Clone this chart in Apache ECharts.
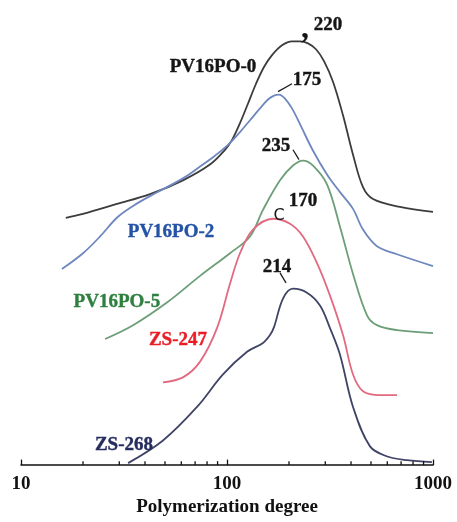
<!DOCTYPE html>
<html>
<head>
<meta charset="utf-8">
<script src="https://cdn.jsdelivr.net/npm/echarts@6/dist/echarts.min.js"></script>
<style>html,body{margin:0;padding:0;background:#fff}#c{width:457px;height:522px}</style>
</head>
<body>
<div id="c"></div>
<script>
// Degree of polymerization (x) and offset intensity (y, arbitrary units)
const pv0X = [16.5,20.0,29.2,42.3,61.1,82.6,97.8,105.8,115.6,126.5,138.3,151.2,165.4,184.9,206.8,226.1,247.3,270.4,295.7,327.0,365.7,409.0,457.3,511.3,691.5,1000];
const pv0Y = [251,255,265,275,289,305,320,330,347,367,387,404,416,426,430,430,428,422,410,389,355,315,282,270,262,257];
const pv2X = [15.8,20.0,24.2,29.2,35.0,42.3,61.1,74.0,87.4,101.1,115.6,129.3,144.6,158.1,169.1,178.8,191.2,206.8,226.1,261.6,305.8,353.6,409.0,457.3,534.8,668.7,1000];
const pv2Y = [199,215,232,251,263,273,291,303,314,325,338,350,362,371,375,376,372,362,346,319,295,277,260,239,222,214,202];
const pv5X = [25.6,35.0,51.1,74.0,103.4,129.3,149.5,180.9,209.1,233.8,261.6,305.8,353.6,409.0,478.2,534.8,668.7,1000];
const pv5Y = [128,142,165,192,215,232,259,289,304,309,304,285,242,194,152,142,137,134];
const zs247X = [48.9,61.1,74.0,89.4,103.4,115.6,133.7,167.2,202.2,233.8,273.5,316.2,365.7,409.0,457.3,553.0,668.7];
const zs247Y = [84,89,105,139,184,215,239,250,245,232,205,172,132,92,75,71,71];
const zs268X = [33.1,48.9,71.5,95.6,125.1,149.5,161.7,169.1,187.0,209.1,244.5,282.8,316.2,353.6,409.0,494.5,595.5,747.6,988];
const zs268Y = [2,25,59,92,115,124,132,140,169,179,175,162,139,112,59,19,9,5,3];

const xTicks = [10,100,1000];
const minorTicks = [20,30,40,50,60,70,80,90,200,300,400,500,600,700,800,900];

// Annotations: text, x, y, colour
const annotations = [
  ['PV16PO-0', 85.5, 404, '#151515'],
  ['220', 309.3, 447, '#151515'],
  ['175', 244.5, 391, '#151515'],
  ['235', 172.9, 324, '#151515'],
  ['170', 233.8, 268, '#151515'],
  ['214', 174.9, 201, '#151515'],
  ['PV16PO-2', 53.5, 236, '#2453a6'],
  ['PV16PO-5', 29.2, 165, '#2f8040'],
  ['ZS-247', 57.8, 127, '#ea1c24'],
  ['ZS-268', 31.6, 20, '#252c5e']
];
const leaders = [
  [[176.9,379],[206.8,387]],
  [[209.1,320],[223.6,310]],
  [[180.9,195],[193.4,185]]
];

const zip = (xs, ys) => xs.map((x, i) => [x, ys[i]]);
const FONT = '"Liberation Serif", "Times New Roman", serif';

const curves = [
  ['PV16PO-0', pv0X, pv0Y, '#3c3c3c'],
  ['PV16PO-2', pv2X, pv2Y, '#6f87bf'],
  ['PV16PO-5', pv5X, pv5Y, '#6c9e78'],
  ['ZS-247', zs247X, zs247Y, '#e16a80'],
  ['ZS-268', zs268X, zs268Y, '#3f4466']
];

const series = curves.map(c => ({
  name: c[0], type: 'line', data: zip(c[1], c[2]), smooth: 0.35,
  showSymbol: false, lineStyle: {color: c[3], width: 1.8}, z: 3
}));

leaders.forEach(l => series.push({
  type: 'line', data: l, showSymbol: false, lineStyle: {color: '#1e1e1e', width: 1.3}, z: 4
}));

// minor ticks on the log axis
minorTicks.forEach(v => series.push({
  type: 'line', data: [[v, 0], [v, 4]], showSymbol: false, clip: false,
  lineStyle: {color: '#111', width: 1.3}, z: 6
}));

series.push({
  type: 'scatter', symbolSize: 0, z: 5, itemStyle: {opacity: 1},
  data: annotations.map(a => ({
    value: [a[1], a[2]],
    label: {show: true, formatter: a[0], position: 'inside', color: a[3], opacity: 1,
      fontFamily: FONT, fontWeight: 'bold', fontSize: 19,
      textBorderColor: a[3], textBorderWidth: 0.4}
  }))
});
// comma near 220 and 'C' near 170
series.push({
  type: 'scatter', symbolSize: 0, z: 5, itemStyle: {opacity: 1},
  data: [
    {value: [239.1, 442], label: {show: true, formatter: ',', position: 'inside', color: '#151515', opacity: 1, fontFamily: FONT, fontWeight: 'bold', fontSize: 32}},
    {value: [178.8, 253], label: {show: true, formatter: 'C', position: 'inside', color: '#151515', opacity: 1, fontFamily: '"DejaVu Sans", sans-serif', fontSize: 16}}
  ]
});

const chart = echarts.init(document.getElementById('c'));
chart.setOption({
  animation: false,
  backgroundColor: '#fff',
  grid: {left: 21, right: 24, top: 0, bottom: 50},
  xAxis: {
    type: 'log', logBase: 10, min: 10, max: 1000,
    axisLine: {show: true, lineStyle: {color: '#111', width: 1.5}},
    axisTick: {show: true, inside: true, length: 5.5, lineStyle: {color: '#111', width: 1.3}},
    splitLine: {show: false},
    axisLabel: {margin: 9, color: '#111', fontFamily: FONT, fontWeight: 'bold', fontSize: 19,
      formatter: v => xTicks.indexOf(Math.round(v)) >= 0 ? String(Math.round(v)) : ''},
    name: 'Polymerization degree', nameLocation: 'middle', nameGap: 26,
    nameTextStyle: {color: '#111', fontFamily: FONT, fontWeight: 'bold', fontSize: 19}
  },
  yAxis: {type: 'value', min: 0, max: 472, show: false},
  series: series
});
</script>
</body>
</html>
